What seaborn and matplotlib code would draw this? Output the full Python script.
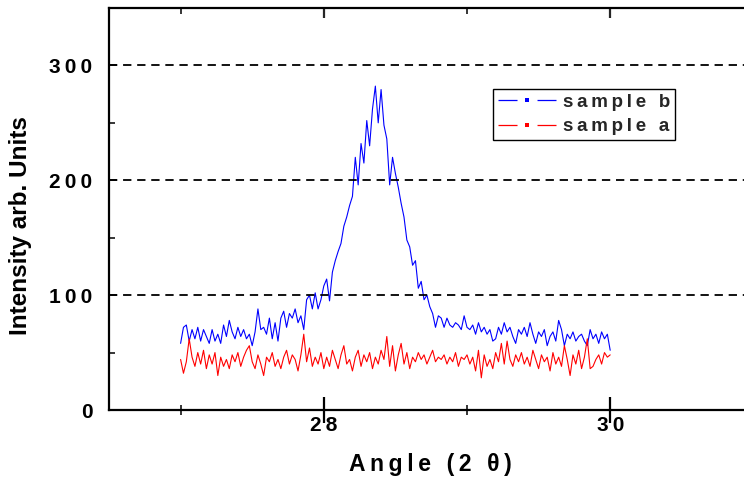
import numpy as np
import pandas as pd
import matplotlib
matplotlib.use("Agg")
import matplotlib.pyplot as plt
from matplotlib.lines import Line2D
from matplotlib.legend_handler import HandlerTuple
import seaborn as sns

# Scan grid (degrees 2-theta)
angle_start = 27.0
angle_step = 0.02

# Measured intensities, one value per scan step
sample_b = [
    58, 72, 74, 60, 70, 62, 72, 60, 70, 64,
    58, 70, 60, 66, 58, 74, 64, 78, 68, 62,
    72, 64, 70, 62, 66, 56, 68, 88, 70, 72,
    66, 80, 62, 76, 60,
    80, 86, 72, 84, 80, 88, 76, 82, 70, 96,
    100, 88, 102, 88, 96, 108,
    114, 95, 120, 130, 138, 145, 160, 168, 178, 186,
    220, 196, 232, 215, 252, 230, 262, 282, 250, 279,
    248, 236, 196, 220, 206, 194, 180, 168, 148, 142,
    126, 130, 106, 112, 96, 100, 90, 84, 72, 82,
    80, 72, 80, 74, 72, 76, 74, 70, 82, 72,
    70, 74, 66, 76, 68, 72, 66, 70, 60,
    62, 72, 66, 76, 68, 72, 64, 58, 70, 66,
    72, 64, 76, 66, 58, 68, 64, 70, 56, 64,
    68, 60, 78, 70, 56, 66, 62, 68, 60, 64,
    66, 60, 56, 70, 62, 66, 58, 68, 62, 66,
    52,
]
sample_a = [
    44, 32, 42, 62, 46, 38, 50, 40, 52, 36, 48,
    40, 50, 30, 46, 38, 44, 36, 48, 42, 50,
    38, 46, 52, 56, 42, 36, 48, 40, 30, 46,
    42, 50, 38, 44, 36, 46, 52, 40, 48, 44,
    34, 48, 66, 42, 54, 38, 46, 40, 50, 36,
    46, 38, 52, 44, 36, 48, 56, 40, 44, 34,
    46, 52, 38, 48, 42, 50, 36, 46, 40, 52,
    44, 64, 38, 56, 34, 48, 58, 40, 50, 36,
    46, 42, 50, 44, 48, 40, 46, 52, 42, 46,
    44, 48, 40, 46, 42, 50, 38, 46, 44, 48,
    40, 46, 34, 52, 28, 48, 38, 44, 36, 50,
    42, 58, 40, 60, 44, 38, 48, 42, 50, 40,
    46, 38, 52, 44, 36, 48, 42, 46, 34, 50,
    40, 46, 38, 56, 44, 30, 48, 40, 52, 36,
    46, 62, 36, 38, 44, 48, 40, 50, 46, 48,
]

series_names = ["sample b", "sample a"]
series_colors = ["#0000ff", "#ff0000"]

x_major = [28, 30]
x_minor = [27, 29, 31]
y_major = [0, 100, 200, 300]
y_minor = [50, 150, 250]

x_title = "Angle (2 θ)"
y_title = "Intensity arb. Units"


def spaced(text, gap="\u2009"):
    """Letter-spaced version of a label."""
    return gap.join(text)


angle = angle_start + angle_step * np.arange(len(sample_b))
df = pd.concat(
    [
        pd.DataFrame({"angle": angle, "intensity": sample_b, "sample": series_names[0]}),
        pd.DataFrame({"angle": angle, "intensity": sample_a, "sample": series_names[1]}),
    ],
    ignore_index=True,
)

sns.set_theme(style="ticks")
plt.rcParams["font.family"] = ["Liberation Sans", "DejaVu Sans"]
plt.rcParams["font.weight"] = "bold"

fig = plt.figure(figsize=(7.44, 4.8), dpi=100)
# plot area runs past the right edge of the canvas
ax = fig.add_axes([109 / 744, 70 / 480, 716 / 744, 402 / 480])

sns.lineplot(
    data=df, x="angle", y="intensity", hue="sample",
    palette=dict(zip(series_names, series_colors)),
    estimator=None, sort=False, linewidth=0.8, legend=False, ax=ax,
)

ax.set_xlim(26.5, 31.5)
ax.set_ylim(0, 350)

for side in ["left", "bottom", "top"]:
    ax.spines[side].set_linewidth(1.6)
    ax.spines[side].set_color("black")
ax.spines["right"].set_visible(False)

# horizontal dashed reference lines
for yv in y_major[1:]:
    ax.axhline(yv, color="black", lw=1.3, ls=(0, (4.6, 3.2)), zorder=3)

ax.set_xticks(x_major)
ax.set_xticks(x_minor, minor=True)
ax.set_xticklabels([spaced(str(v)) for v in x_major])
ax.set_yticks(y_major)
ax.set_yticks(y_minor, minor=True)
ax.set_yticklabels([spaced(str(v)) for v in y_major])

ax.tick_params(axis="x", which="major", direction="inout", length=19, width=1.6,
               pad=-5, labelsize=15, colors="black")
ax.tick_params(axis="x", which="minor", direction="inout", length=7, width=1.3)
ax.tick_params(axis="y", which="major", direction="in", length=6, width=1.3,
               pad=12, labelsize=15, colors="black")
ax.tick_params(axis="y", which="minor", direction="in", length=4, width=1.3)
for lab in ax.get_xticklabels() + ax.get_yticklabels():
    lab.set_fontweight("bold")

top = ax.secondary_xaxis("top")
top.set_xticks(x_major)
top.set_xticks(x_minor, minor=True)
top.tick_params(axis="x", which="major", direction="in", length=7, width=1.6, labeltop=False)
top.tick_params(axis="x", which="minor", direction="in", length=4, width=1.3)
top.spines["top"].set_visible(False)

ax.set_xlabel(spaced(x_title), fontsize=16.5, fontweight="bold", color="black")
ax.xaxis.set_label_coords((430 - 109) / 716, (410 - 465) / 402)
ax.xaxis.label.set_va("center")
ax.set_ylabel(y_title, fontsize=17.5, fontweight="bold", color="black")
ax.yaxis.set_label_coords((21 - 109) / 716, (410 - 226) / 402)
ax.yaxis.label.set_va("center")

# legend keys: two line segments with a small dot in the gap between them
key_lw = 0.9
handles = []
for c in series_colors:
    seg = Line2D([], [], color=c, lw=key_lw,
                 ls=(0, (13.7 / key_lw, 14.4 / key_lw)))
    dot = Line2D([], [], ls="none", marker="s", markersize=2.6,
                 markerfacecolor=c, markeredgecolor=c, markeredgewidth=0)
    handles.append((seg, dot))

leg = ax.legend(
    handles, [spaced(n) for n in series_names],
    handler_map={tuple: HandlerTuple(ndivide=1, pad=0)},
    loc="upper left", bbox_to_anchor=(493 / 744, 1 - 89 / 480),
    bbox_transform=fig.transFigure, numpoints=1, frameon=True, fancybox=False,
    edgecolor="black", framealpha=1, prop={"size": 13.5, "weight": "bold"},
    handlelength=3.1, handletextpad=0.4, borderpad=0.25, labelspacing=0.38,
    borderaxespad=0,
)
leg.get_frame().set_linewidth(1.0)

fig.savefig("out.png", dpi=100)
